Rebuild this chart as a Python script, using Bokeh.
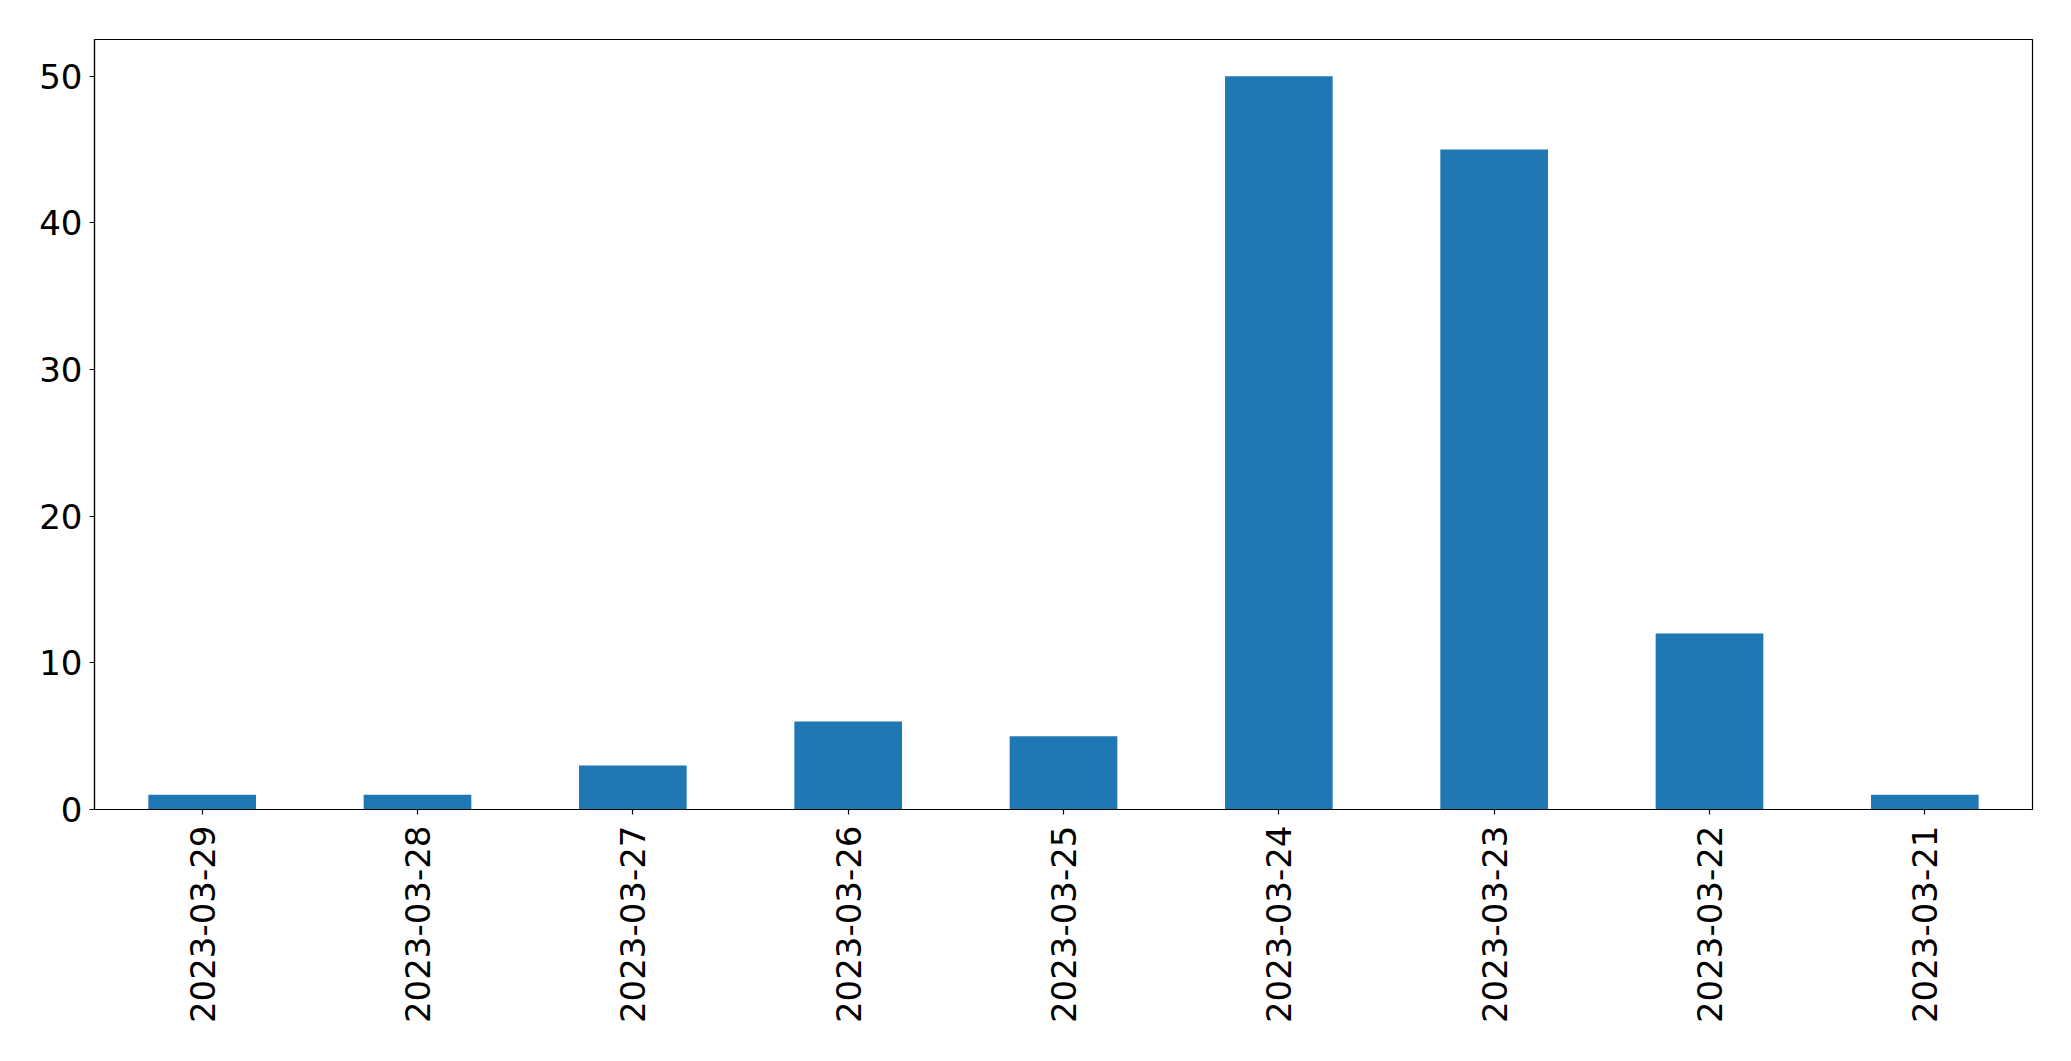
import math
from bokeh.plotting import figure
from bokeh.models import FactorRange, Range1d, FixedTicker, ColumnDataSource
from bokeh.embed import file_html
from bokeh.resources import INLINE

dates = ["2023-03-29", "2023-03-28", "2023-03-27", "2023-03-26", "2023-03-25",
         "2023-03-24", "2023-03-23", "2023-03-22", "2023-03-21"]
counts = [1, 1, 3, 6, 5, 50, 45, 12, 1]
y_ticks = [0, 10, 20, 30, 40, 50]

source = ColumnDataSource(data=dict(dates=dates, counts=counts))

p = figure(
    width=2063, height=1053,
    x_range=FactorRange(factors=dates, range_padding=0),
    y_range=Range1d(0, 52.5),
    output_backend="svg", toolbar_location=None,
    min_border_left=94, min_border_right=31, min_border_top=39, min_border_bottom=244,
)

p.vbar(x="dates", top="counts", width=0.5, source=source,
       fill_color="#1f77b4", line_color=None)

p.xgrid.visible = False
p.ygrid.visible = False
p.outline_line_color = "black"
p.outline_line_width = 1.2
p.background_fill_color = "white"
p.border_fill_color = "white"

p.yaxis.ticker = FixedTicker(ticks=y_ticks)
for ax in (p.xaxis[0], p.yaxis[0]):
    ax.major_label_text_font = "DejaVu Sans"
    ax.major_label_text_font_size = "34px"
    ax.major_label_text_color = "black"
    ax.axis_line_color = "black"
    ax.axis_line_width = 1.2
    ax.major_tick_line_color = "black"
    ax.major_tick_line_width = 1.2
    ax.major_tick_out = 5
    ax.major_tick_in = 0
    ax.minor_tick_line_color = None

p.yaxis.major_label_standoff = 7
p.xaxis.major_label_standoff = 11
p.xaxis.major_label_orientation = math.pi / 2

open("out.html", "w").write(file_html(p, INLINE))
